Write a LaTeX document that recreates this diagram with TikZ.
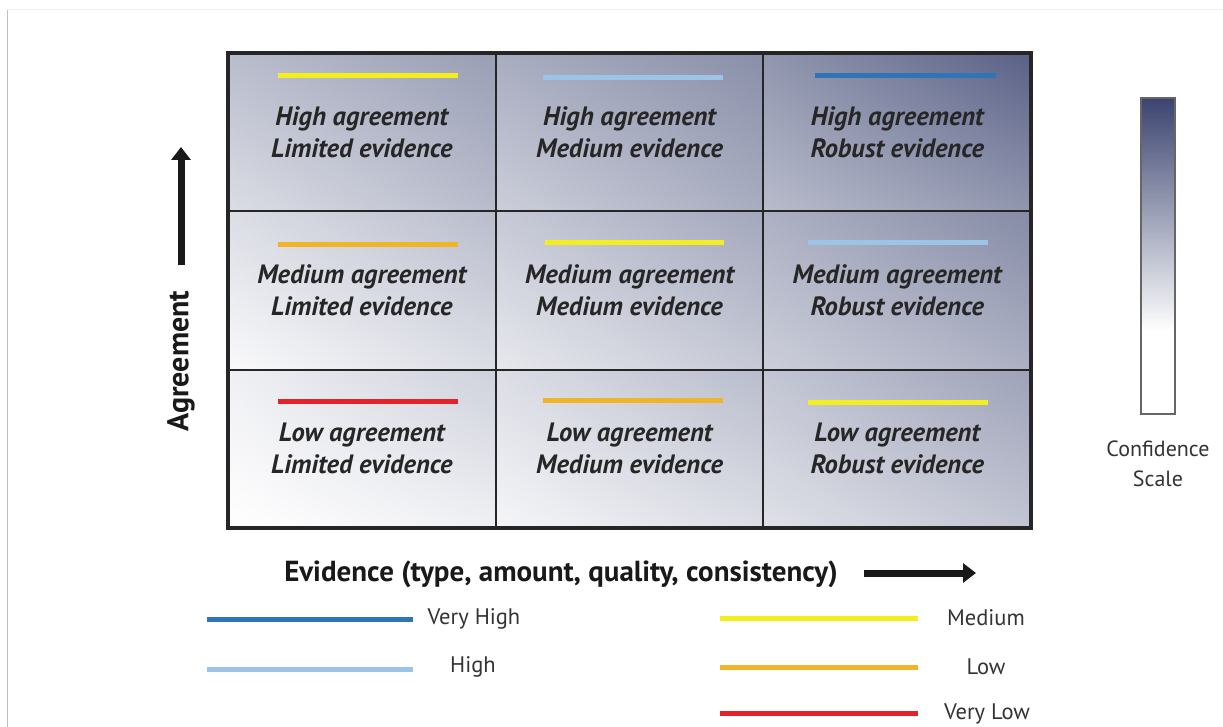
\documentclass[tikz,border=0pt]{standalone}
\usepackage{fontspec}
\setmainfont{PT Sans}
\usetikzlibrary{arrows.meta,shadings}
\definecolor{confNavy}{HTML}{3B4470}
\definecolor{confVeryHigh}{HTML}{2E75B6}
\definecolor{confHigh}{HTML}{9DC3E6}
\definecolor{confMedium}{HTML}{F5EE1F}
\definecolor{confLow}{HTML}{F0B429}
\definecolor{confVeryLow}{HTML}{E4222A}
\pgfdeclareverticalshading{confscale}{100bp}{color(0bp)=(white); color(38bp)=(white); color(75bp)=(confNavy); color(100bp)=(confNavy)}
\begin{document}
\begin{tikzpicture}[x=1pt, y=-1pt,
    cell/.style={draw=black!85, line width=2pt, minimum width=267.7pt,
      minimum height=158.3pt, outer sep=0pt, inner sep=0pt, align=center,
      text=black!85, font=\bfseries\itshape\fontsize{26.5}{32}\selectfont},
    cellfill/.style n args={3}{shade, lower left=confNavy!#1!white,
      upper left=confNavy!#2!white, lower right=confNavy!#2!white,
      upper right=confNavy!#3!white},
    bar/.style={line width=5pt},
    keytext/.style={text=black!80, font=\fontsize{22.5}{26}\selectfont},
    axisarrow/.style={line width=7pt, black!90, -{Triangle[length=13pt,width=19pt]}},
    axistext/.style={text=black!90, font=\bfseries\fontsize{29}{34}\selectfont}]
  \useasboundingbox (0,0) rectangle (1223,727);
  % page frame
  \draw[black!25, line width=1pt] (7,10) -- (7,727);
  \draw[black!6, line width=1pt] (7,10) -- (1223,10);
  % the grid of cells
  \node[cell, cellfill={18}{36}{52}] (hl) at (361.8,132.2) {High agreement\\Limited evidence};
  \node[cell, cellfill={26}{44}{60}] (hm) at (629.5,132.2) {High agreement\\Medium evidence};
  \node[cell, cellfill={36}{56}{85}] (hr) at (897.2,132.2) {High agreement\\Robust evidence};
  \node[cell, cellfill={3}{18}{36}] (ml) at (361.8,290.5) {Medium agreement\\Limited evidence};
  \node[cell, cellfill={12}{29}{47}] (mm) at (629.5,290.5) {Medium agreement\\Medium evidence};
  \node[cell, cellfill={26}{42}{62}] (mr) at (897.2,290.5) {Medium agreement\\Robust evidence};
  \node[cell, cellfill={0}{8}{25}] (ll) at (361.8,448.8) {Low agreement\\Limited evidence};
  \node[cell, cellfill={5}{18}{36}] (lm) at (629.5,448.8) {Low agreement\\Medium evidence};
  \node[cell, cellfill={16}{31}{50}] (lr) at (897.2,448.8) {Low agreement\\Robust evidence};
  \draw[black!85, line width=3.5pt] (hl.north west) rectangle (lr.south east);
  % confidence bars
  \draw[bar, confMedium] (278,76) -- (458,76);
  \draw[bar, confHigh] (543,78) -- (723,78);
  \draw[bar, confVeryHigh] (815,76) -- (996,76);
  \draw[bar, confLow] (278,245) -- (458,245);
  \draw[bar, confMedium] (545,243) -- (724,243);
  \draw[bar, confHigh] (808,243) -- (988,243);
  \draw[bar, confVeryLow] (278,401) -- (458,401);
  \draw[bar, confLow] (543,400) -- (723,400);
  \draw[bar, confMedium] (808,402) -- (988,402);
  % axes
  \coordinate (agrtail) at (181,265);
  \coordinate (agrtip) at (181,147);
  \draw[axisarrow] (agrtail) -- (agrtip);
  \node[axistext, rotate=90, font=\bfseries\fontsize{30}{34}\selectfont] (agr) at (181,361) {Agreement};
  \node[axistext] (evi) at (561,574) {Evidence (type, amount, quality, consistency)};
  \coordinate (evitail) at (864,573);
  \coordinate (evitip) at (976,573);
  \draw[axisarrow] (evitail) -- (evitip);
  % confidence scale
  \node[draw=black!60, line width=1.5pt, minimum width=34pt, minimum height=316pt,
    inner sep=0pt, shade, shading=confscale] (scale) at (1158,256) {};
  \node[keytext, align=center, font=\fontsize{22}{30}\selectfont] (scaletext)
    at (1158,464) {Confidence\\Scale};
  % legend
  \draw[bar, confVeryHigh] (207,619) -- (413,619);
  \node[keytext] (kvh) at (474,619) {Very High};
  \draw[bar, confHigh] (207,669) -- (413,669);
  \node[keytext] (kh) at (473,667) {High};
  \draw[bar, confMedium] (720,618) -- (918,618);
  \node[keytext] (km) at (986,618) {Medium};
  \draw[bar, confLow] (720,667) -- (918,667);
  \node[keytext] (kl) at (986,667) {Low};
  \draw[bar, confVeryLow] (720,713) -- (918,713);
  \node[keytext] (kvl) at (987,714) {Very Low};
\end{tikzpicture}
\end{document}
